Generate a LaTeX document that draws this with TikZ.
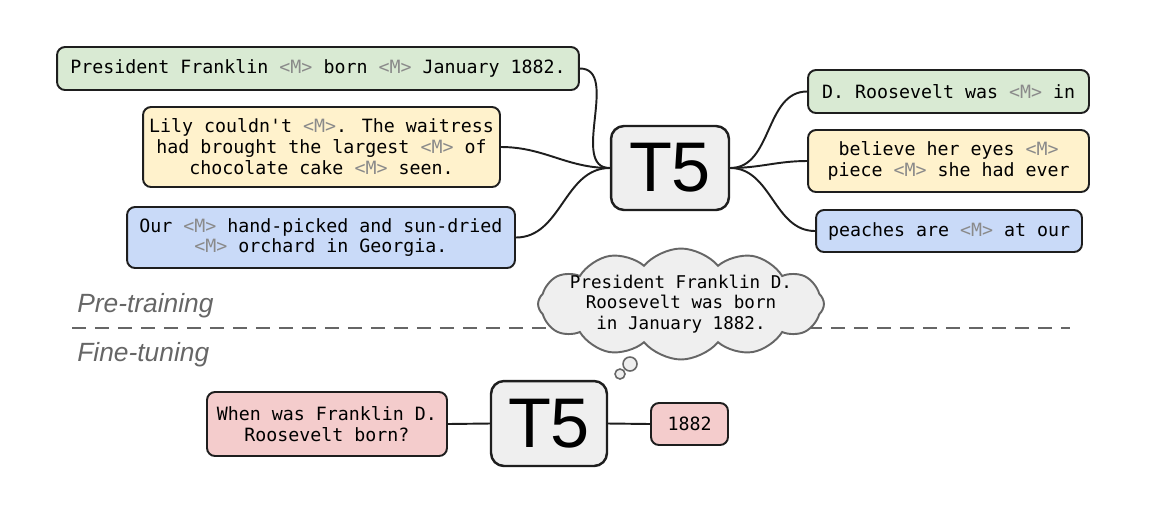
\documentclass[tikz,border=0pt]{standalone}
\usepackage{fontspec}
\setmainfont{Liberation Sans}
\newfontfamily\codefont{DejaVu Sans Mono}
\usepackage{tikz}
\usetikzlibrary{shapes.symbols, positioning}

\definecolor{boxgreen}{HTML}{D9EAD3}
\definecolor{boxyellow}{HTML}{FFF2CC}
\definecolor{boxblue}{HTML}{C9DAF8}
\definecolor{boxpink}{HTML}{F4CCCC}
\definecolor{modelgray}{HTML}{EFEFEF}
\definecolor{edgedark}{HTML}{1E1E1E}
\definecolor{maskgray}{HTML}{8A8A8A}
\definecolor{phasegray}{HTML}{666666}

\newcommand{\msk}{\textcolor{maskgray}{<M>}}

\begin{document}
\begin{tikzpicture}[
  x=0.02cm, y=-0.02cm,
  txtbox/.style={draw=edgedark, line width=1.1pt, rounded corners=0.16cm,
                 inner xsep=0.12cm, inner ysep=0.08cm, align=center,
                 font=\codefont\fontsize{10.4}{11.9}\selectfont},
  model/.style={draw=edgedark, line width=1.4pt, rounded corners=0.26cm,
                fill=modelgray, minimum width=2.36cm, minimum height=1.68cm,
                inner sep=0pt, font=\fontsize{40}{40}\selectfont},
  link/.style={draw=edgedark, line width=1.1pt},
  phase/.style={font=\itshape\fontsize{15}{15}\selectfont, text=phasegray,
                anchor=west, inner sep=0pt}
]
\useasboundingbox (0,0) rectangle (1169,522);

% pre-training
\node[model] (t5pre) at (670,168) {T5};

\node[txtbox, fill=boxgreen, minimum width=10.44cm, minimum height=0.86cm]
  (inA) at (318,68.5) {President Franklin \msk{} born \msk{} January 1882.};
\node[txtbox, fill=boxyellow, minimum width=7.14cm, minimum height=1.6cm]
  (inB) at (321.5,147) {Lily couldn't \msk. The waitress\\had brought the largest \msk{} of\\chocolate cake \msk{} seen.};
\node[txtbox, fill=boxblue, minimum width=7.76cm, minimum height=1.22cm]
  (inC) at (321,237.5) {Our \msk{} hand-picked and sun-dried\\\msk{} orchard in Georgia.};

\node[txtbox, fill=boxgreen, minimum width=5.62cm, minimum height=0.86cm]
  (outA) at (948.5,91.5) {D. Roosevelt was \msk{} in};
\node[txtbox, fill=boxyellow, minimum width=5.62cm, minimum height=1.24cm]
  (outB) at (948.5,161) {believe her eyes \msk\\piece \msk{} she had ever};
\node[txtbox, fill=boxblue, minimum width=5.32cm, minimum height=0.84cm]
  (outC) at (949,231) {peaches are \msk{} at our};

\draw[link] (inA.east) to[out=0, in=180] (t5pre.west);
\draw[link] (inB.east) to[out=0, in=180] (t5pre.west);
\draw[link] (inC.east) to[out=0, in=180] (t5pre.west);
\draw[link] (t5pre.east) to[out=0, in=180] (outA.west);
\draw[link] (t5pre.east) to[out=0, in=180] (outB.west);
\draw[link] (t5pre.east) to[out=0, in=180] (outC.west);

% phase split
\coordinate (splitL) at (72,328);
\coordinate (splitR) at (1070,328);
\draw[phasegray, line width=1.4pt, dash pattern=on 0.28cm off 0.18cm] (splitL) -- (splitR);
\node[phase] (pretxt) at (77,306) {Pre-training};
\node[phase] (finetxt) at (77,355) {Fine-tuning};

% thought
\node[cloud, cloud puffs=12, cloud puff arc=100, cloud ignores aspect, draw=phasegray,
      line width=1.1pt, fill=modelgray, minimum width=5.72cm, minimum height=2.22cm,
      align=center, inner xsep=-0.45cm, inner ysep=-0.3cm,
      font=\codefont\fontsize{10}{11.6}\selectfont]
  (thought) at (681,304) {President Franklin D.\\Roosevelt was born\\in January 1882.};
\node[circle, draw=phasegray, line width=0.9pt, fill=modelgray, minimum size=0.28cm, inner sep=0pt]
  (bubA) at (630,364) {};
\node[circle, draw=phasegray, line width=0.9pt, fill=modelgray, minimum size=0.2cm, inner sep=0pt]
  (bubB) at (620,374) {};

% fine-tuning
\node[model, minimum width=2.32cm, minimum height=1.7cm] (t5fine) at (549,423.5) {T5};
\node[txtbox, fill=boxpink, minimum width=4.8cm, minimum height=1.28cm]
  (query) at (327,424) {When was Franklin D.\\Roosevelt born?};
\node[txtbox, fill=boxpink, minimum width=1.54cm, minimum height=0.84cm]
  (answer) at (689.5,424) {1882};
\draw[link] (query.east) -- (t5fine.west);
\draw[link] (t5fine.east) -- (answer.west);
\end{tikzpicture}
\end{document}
